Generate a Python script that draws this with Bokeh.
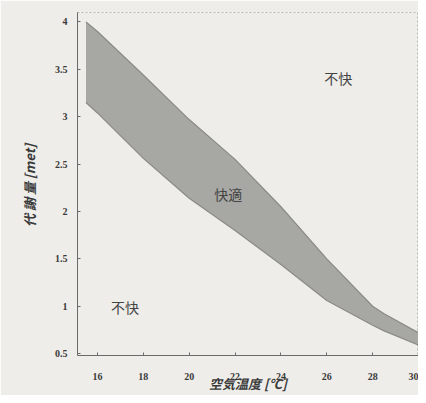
from bokeh.plotting import figure
from bokeh.models import Range1d, FixedTicker, Label
from bokeh.embed import file_html
from bokeh.resources import INLINE

# Data
temp = [15.5, 16, 18, 20, 22, 24, 26, 28, 28.5, 30]
upper = [4.0, 3.9, 3.44, 2.97, 2.55, 2.05, 1.5, 1.0, 0.92, 0.72]
lower = [3.15, 3.04, 2.56, 2.14, 1.8, 1.44, 1.06, 0.8, 0.74, 0.59]
x_ticks = [16, 18, 20, 22, 24, 26, 28, 30]
y_ticks = [0.5, 1, 1.5, 2, 2.5, 3, 3.5, 4]
region_labels = ["不快", "快適", "不快"]
region_x = [26.5, 21.7, 17.2]
region_y = [3.41, 2.18, 0.99]

bg = "#eeede9"
p = figure(width=418, height=395, output_backend="svg", toolbar_location=None,
           x_range=Range1d(15.13, 30.0), y_range=Range1d(0.48, 4.1),
           min_border_left=77, min_border_right=0, min_border_top=12, min_border_bottom=38)
p.background_fill_color = bg
p.border_fill_color = bg
p.outline_line_color = "#b8b8b4"
p.outline_line_dash = "2 2"
p.grid.visible = False

p.varea(x=temp, y1=lower, y2=upper, fill_color="#a7a7a3")
p.line(temp, upper, line_color="#8a8a87", line_width=1.2)
p.line(temp, lower, line_color="#8a8a87", line_width=1.2)

for ax in (p.xaxis[0], p.yaxis[0]):
    ax.axis_line_color = "#6a6a68"
    ax.major_tick_line_color = "#6a6a68"
    ax.major_tick_in = 3
    ax.major_tick_out = 0
    ax.minor_tick_line_color = None
    ax.major_label_text_font = "Liberation Serif"
    ax.major_label_text_font_style = "bold"
    ax.major_label_text_font_size = "10px"
    ax.major_label_text_color = "#3a3a3a"
    ax.axis_label_text_font = "Noto Sans CJK JP"
    ax.axis_label_text_font_style = "bold italic"
    ax.axis_label_text_font_size = "13px"
    ax.axis_label_text_color = "#3a3a3a"

p.xaxis.ticker = FixedTicker(ticks=x_ticks)
p.yaxis.ticker = FixedTicker(ticks=y_ticks)
p.yaxis.formatter.use_scientific = False
p.xaxis.axis_label = "空気温度 [℃]"
p.yaxis.axis_label = "代 謝 量  [met]"
p.xaxis.axis_label_standoff = -9
p.yaxis.axis_label_standoff = 13
p.xaxis.major_label_standoff = 17
p.yaxis.major_label_standoff = 10

for t, x, y in zip(region_labels, region_x, region_y):
    p.add_layout(Label(x=x, y=y, text=t, text_align="center", text_baseline="middle",
                       text_font="Noto Sans CJK JP", text_font_size="14px",
                       text_color="#444444"))

open("out.html", "w").write(file_html(p, INLINE))
